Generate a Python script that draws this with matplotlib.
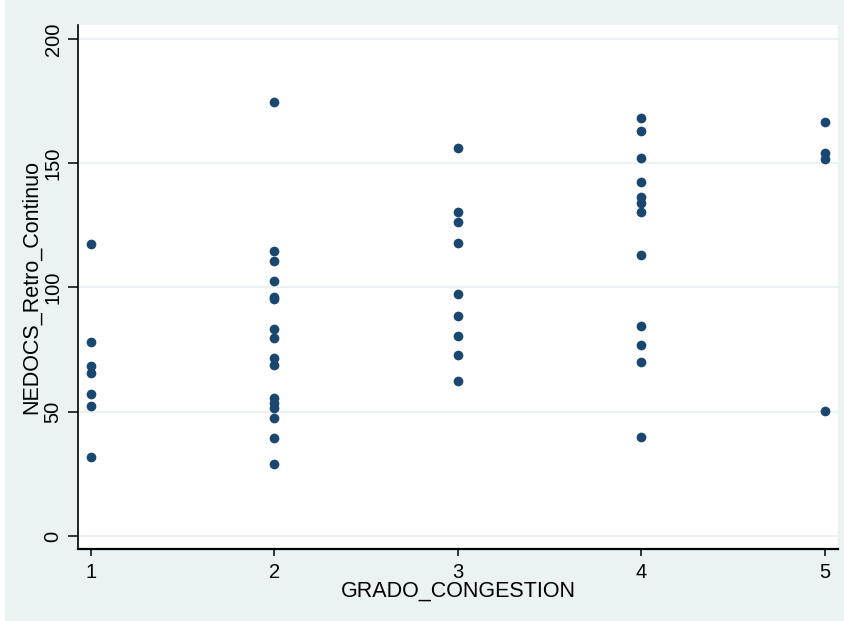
import matplotlib
matplotlib.use('Agg')
from matplotlib import pyplot as plt
from matplotlib.patches import Rectangle

plt.rcParams['font.family'] = ['Liberation Sans', 'DejaVu Sans']

# values, one list per congestion grade
grade_1 = [117.5, 78, 68.5, 65.5, 57, 52.5, 32]
grade_2 = [174.5, 114.5, 110.5, 102.5, 96, 95.5, 83.5, 79.5, 71.5, 69,
           55.5, 53.5, 51.5, 47.5, 39.5, 29]
grade_3 = [156, 130.5, 126.5, 118, 97.5, 88.5, 80.5, 73, 62.5]
grade_4 = [168, 163, 152, 142.5, 136.5, 134, 130.5, 113, 84.5, 77, 70, 40]
grade_5 = [166.5, 154, 151.5, 50.5]

groups = [grade_1, grade_2, grade_3, grade_4, grade_5]
x_ticks = [1, 2, 3, 4, 5]
y_ticks = [0, 50, 100, 150, 200]

bg = '#eaf2f3'
navy = '#1a476f'

fig = plt.figure(figsize=(8.45, 6.21), dpi=100, facecolor=bg)
# thin white strip on the left like the exported graph
fig.patches.append(Rectangle((0, 0), 5 / 845, 1, transform=fig.transFigure,
                             facecolor='white', edgecolor='none', zorder=-1))

ax = fig.add_axes([78 / 845, 1 - 549 / 621, (838 - 78) / 845, (549 - 25) / 621])
ax.set_facecolor('white')

for g, vals in zip(x_ticks, groups):
    ax.plot([g] * len(vals), vals, 'o', color=navy, markersize=7,
            markeredgewidth=0, zorder=3)

ax.set_xlim(1 - 13 / 183.5, 5 + 13 / 183.5)
ax.set_ylim(-5.2, 205.6)
ax.set_xticks(x_ticks)
ax.set_yticks(y_ticks)
ax.set_yticklabels([str(t) for t in y_ticks], rotation=90, va='center')

ax.grid(axis='y', color=bg, linewidth=1.5, zorder=0)
ax.set_axisbelow(True)

for side in ['top', 'right']:
    ax.spines[side].set_visible(False)
ax.spines['left'].set_linewidth(1.2)
ax.spines['bottom'].set_linewidth(1.6)

ax.tick_params(axis='y', length=7, width=1.1, labelsize=14.5, pad=4,
               colors='black')
ax.tick_params(axis='x', length=5, width=1.1, labelsize=14.5, pad=5,
               colors='black')

ax.set_xlabel('GRADO_CONGESTION', fontsize=15.5, labelpad=-1)
ax.set_ylabel('NEDOCS_Retro_Continuo', fontsize=15.5, labelpad=1)

fig.savefig('out.png', dpi=100, facecolor=bg)
